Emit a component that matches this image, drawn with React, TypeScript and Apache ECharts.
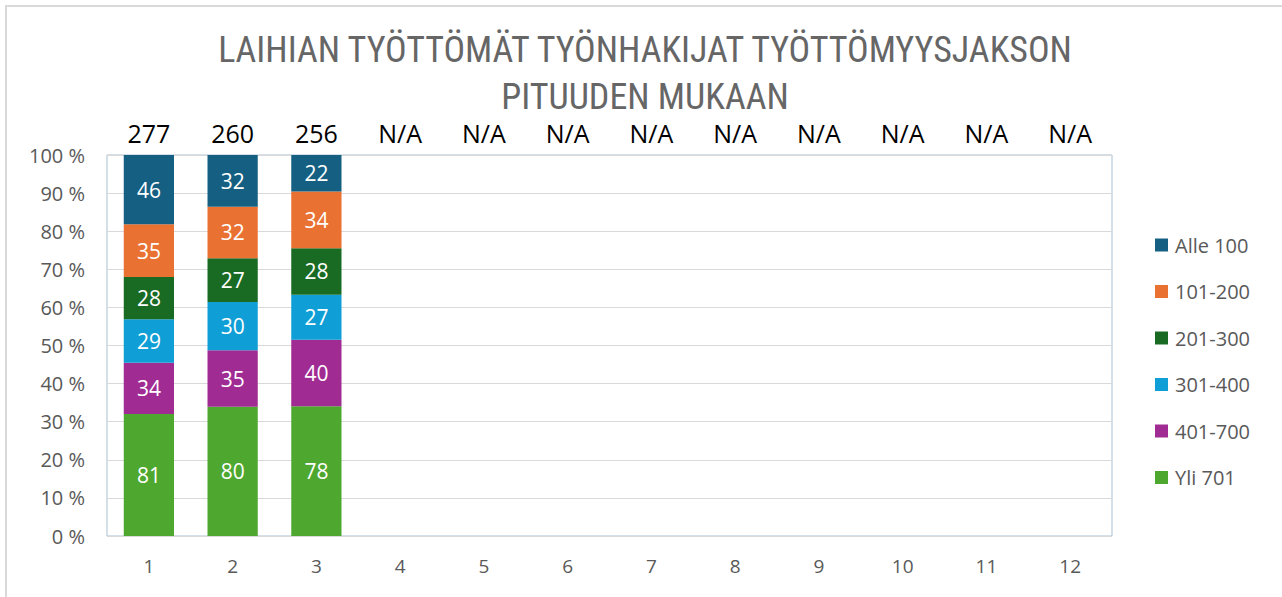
import React, { useEffect, useRef } from "react";
import * as echarts from "echarts";

const categories = ["1", "2", "3", "4", "5", "6", "7", "8", "9", "10", "11", "12"];
const totals = ["277", "260", "256", "N/A", "N/A", "N/A", "N/A", "N/A", "N/A", "N/A", "N/A", "N/A"];
const seriesNames = ["Yli 701", "401-700", "301-400", "201-300", "101-200", "Alle 100"];
const yli701 = [81, 80, 78];
const s401_700 = [34, 35, 40];
const s301_400 = [29, 30, 27];
const s201_300 = [28, 27, 28];
const s101_200 = [35, 32, 34];
const alle100 = [46, 32, 22];
const colors = ["#4EA72E", "#A02B93", "#0F9ED5", "#196B24", "#E97132", "#156082"];
const legendOrder = ["Alle 100", "101-200", "201-300", "301-400", "401-700", "Yli 701"];
const titleLines = ["LAIHIAN TYÖTTÖMÄT TYÖNHAKIJAT TYÖTTÖMYYSJAKSON", "PITUUDEN MUKAAN"];
const yTicks = { min: 0, max: 100, interval: 10 };

const FONT = "'Open Sans', 'Noto Sans', sans-serif";
const NARROW = "'Liberation Sans Narrow', 'Roboto Condensed', 'DejaVu Sans Condensed', sans-serif";

export default function App() {
  const ref = useRef<HTMLDivElement>(null);
  useEffect(() => {
    if (!ref.current) return;
    const chart = echarts.init(ref.current, undefined, { renderer: "svg" });
    const all = [yli701, s401_700, s301_400, s201_300, s101_200, alle100];
    const sums = categories.map((_, i) =>
      all.reduce((acc, arr) => acc + (arr[i] ?? 0), 0)
    );
    const series = all.map((arr, si) => ({
      name: seriesNames[si],
      type: "bar",
      stack: "total",
      barWidth: "60%",
      itemStyle: { color: colors[si] },
      label: {
        show: true,
        position: "inside",
        color: "#ffffff",
        fontSize: 21,
        fontFamily: FONT,
        formatter: (p: any) => (p.data && p.data.count != null ? String(p.data.count) : ""),
      },
      data: categories.map((_, i) =>
        arr[i] != null ? { value: (arr[i] / sums[i]) * 100, count: arr[i] } : null
      ),
    }));
    const titleFont = 36;
    const titleCenters = [50, 97];
    chart.setOption({
      animation: false,
      backgroundColor: "#ffffff",
      title: titleLines.map((t, i) => ({
        text: t,
        left: 645,
        textAlign: "center",
        top: titleCenters[i] - titleFont / 2,
        padding: 0,
        textStyle: {
          fontFamily: NARROW,
          fontWeight: "normal",
          fontSize: titleFont,
          lineHeight: titleFont,
          color: "#666666",
        },
      })),
      graphic: [
        {
          type: "rect",
          shape: { x: 6, y: 6, width: 1300, height: 620 },
          style: { fill: "none", stroke: "#d9d9d9", lineWidth: 2 },
          silent: true,
        },
      ],
      legend: {
        orient: "vertical",
        left: 1155,
        top: 235,
        padding: 0,
        data: legendOrder,
        itemWidth: 13,
        itemHeight: 13,
        itemGap: 26.5,
        icon: "rect",
        textStyle: { fontFamily: FONT, fontSize: 20, lineHeight: 20, color: "#595959", padding: [0, 0, 0, 2] },
      },
      grid: {
        left: 107,
        right: 170,
        top: 155,
        bottom: 61,
        show: true,
        borderColor: "#a8bfcf",
        borderWidth: 1,
      },
      xAxis: [
        {
          type: "category",
          data: categories,
          axisLine: { show: false },
          axisTick: { show: false },
          axisLabel: { color: "#595959", fontSize: 19, fontFamily: FONT, margin: 20 },
        },
        {
          type: "category",
          position: "top",
          data: totals,
          axisLine: { show: false },
          axisTick: { show: false },
          axisLabel: { color: "#000000", fontSize: 25, lineHeight: 25, fontFamily: FONT, margin: 10 },
        },
      ],
      yAxis: {
        type: "value",
        min: yTicks.min,
        max: yTicks.max,
        interval: yTicks.interval,
        axisLine: { show: false },
        axisTick: { show: false },
        splitLine: { lineStyle: { color: "#d9d9d9", width: 1 } },
        axisLabel: {
          formatter: "{value} %",
          color: "#595959",
          fontSize: 20,
          fontFamily: FONT,
          margin: 22,
        },
      },
      series,
    });
    return () => chart.dispose();
  }, []);
  return (
    <div
      ref={ref}
      style={{ position: "fixed", left: 0, top: 0, width: 1282, height: 597 }}
    />
  );
}
